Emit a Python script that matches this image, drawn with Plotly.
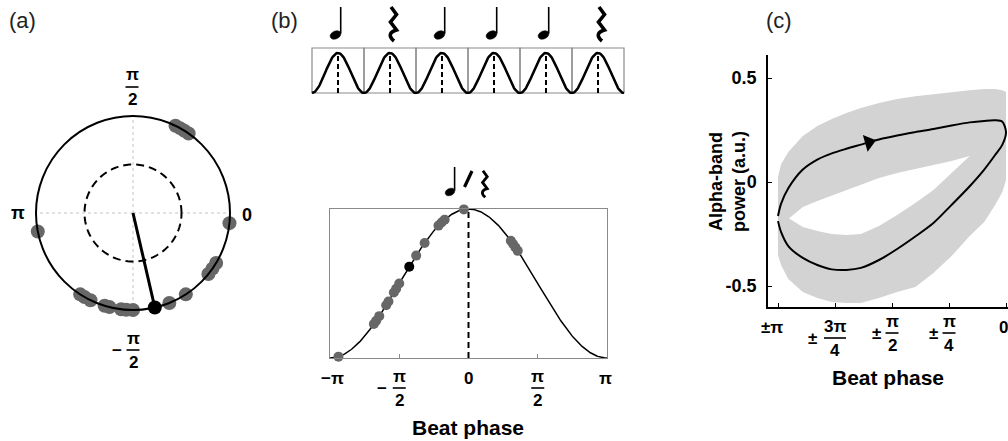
import numpy as np
import plotly.graph_objects as go

W, H = 1008, 441
FONT = "Liberation Sans"
DOT_GRAY = "#676767"
BAND_GRAY = "#d3d3d3"
FRAME_GRAY = "#8a8a8a"

# ---------------- data ----------------
# (a)/(b): individual preferred beat phases (degrees); black dot = mean phase
phases_gray_deg = [-169, -123, -120, -116, -107, -104, -97, -94, -90,
                   -68, -57, -39, -35, -31, -6, 55, 58, 61, 64]
phase_mean_deg = -77
resultant_r = 1.0
significance_r = 0.5

# (b) top: rhythmic sequence (one cycle per beat)
beat_events = ["note", "rest", "note", "note", "note", "rest"]

# (c): alpha-band power vs |beat phase| (rad); pre = phase in (-pi,0), post = phase in (0,pi)
phase_abs = [3.1416, 3.10, 3.0, 2.8, 2.6, 2.4, 2.2, 2.0, 1.75, 1.5, 1.25, 1.0,
             0.75, 0.5, 0.3, 0.15, 0.05, 0.0]
alpha_pre = [-0.163, -0.105, -0.030, 0.060, 0.108, 0.138, 0.160, 0.180, 0.205, 0.224,
             0.240, 0.255, 0.272, 0.287, 0.294, 0.297, 0.290, 0.240]
alpha_pre_hi = [0.024, 0.085, 0.144, 0.221, 0.269, 0.303, 0.332, 0.356, 0.380, 0.399,
                0.413, 0.423, 0.433, 0.442, 0.447, 0.447, 0.442, 0.433]
alpha_pre_lo = [-0.255, -0.221, -0.178, -0.120, -0.091, -0.063, -0.038, -0.014, 0.019, 0.043,
                0.063, 0.082, 0.101, 0.125, 0.139, 0.144, 0.135, 0.106]
alpha_post = [-0.188, -0.240, -0.308, -0.365, -0.399, -0.420, -0.423, -0.413, -0.375, -0.322,
              -0.262, -0.197, -0.110, -0.020, 0.060, 0.130, 0.180, 0.240]
alpha_post_hi = [-0.087, -0.125, -0.173, -0.216, -0.236, -0.250, -0.255, -0.250, -0.212, -0.159,
                 -0.101, -0.038, 0.043, 0.125, 0.202, 0.260, 0.308, 0.346]
alpha_post_lo = [-0.351, -0.399, -0.466, -0.529, -0.558, -0.577, -0.582, -0.582, -0.558, -0.529,
                 -0.505, -0.438, -0.356, -0.260, -0.192, -0.111, -0.048, 0.010]
arrow_phase = 1.89

PI = np.pi


def yp(py):
    return 1 - py / H


def xp(px):
    return px / W


fig = go.Figure()
ann = []
shapes = []


def text(x, y, s, size=16, xref="paper", bold=True, xshift=0, color="black"):
    ann.append(dict(x=x, y=y, xref=xref, yref="paper", text=f"<b>{s}</b>" if bold else s,
                    showarrow=False, xshift=xshift, xanchor="center", yanchor="middle",
                    font=dict(family=FONT, size=size, color=color)))


def frac(x, xref, ynum, num, den, bar_w, gap=12, size=16, prefix=None, pdx=-16, pdy=None):
    text(x, yp(ynum), num, size, xref)
    text(x, yp(ynum + 2 * gap), den, size, xref)
    if xref == "paper":
        shapes.append(dict(type="line", xref="paper", yref="paper",
                           x0=x - bar_w / 2 / W, x1=x + bar_w / 2 / W,
                           y0=yp(ynum + gap), y1=yp(ynum + gap),
                           line=dict(color="black", width=1.6)))
    else:
        shapes.append(dict(type="line", xref=xref, yref="paper", xsizemode="pixel",
                           xanchor=x, x0=-bar_w / 2, x1=bar_w / 2,
                           y0=yp(ynum + gap), y1=yp(ynum + gap),
                           line=dict(color="black", width=1.6)))
    if prefix:
        text(x, yp(ynum + gap + (pdy or 0)), prefix, size, xref, xshift=pdx)


def head_path(a, b, ang, cx, cy):
    t = np.linspace(0, 2 * np.pi, 24, endpoint=False)
    c, s = np.cos(np.radians(ang)), np.sin(np.radians(ang))
    xs = cx + a * np.cos(t) * c - b * np.sin(t) * s
    ys = cy + a * np.cos(t) * s + b * np.sin(t) * c
    return "M " + " L ".join(f"{x:.2f},{y:.2f}" for x, y in zip(xs, ys)) + " Z"


def rest_path(s, cx=0):
    pts = [(-2, 17), (3.5, 9.5), (-2.5, 2), (3.5, -6)]
    p = "M " + " L ".join(f"{cx + x * s:.2f},{y * s:.2f}" for x, y in pts)
    p += f" C {cx - 3.5 * s:.2f},{-8 * s:.2f} {cx - 5 * s:.2f},{-12 * s:.2f} {cx + 1 * s:.2f},{-17 * s:.2f}"
    return p


def note(xref, x, yanchor, dx=0, dy=0, a=5.6, b=3.9, stem=28):
    shapes.append(dict(type="path", xref=xref, yref="paper", xsizemode="pixel", ysizemode="pixel",
                       xanchor=x, yanchor=yanchor, path=head_path(a, b, 25, dx, dy),
                       fillcolor="black", line=dict(color="black", width=0.5)))
    shapes.append(dict(type="line", xref=xref, yref="paper", xsizemode="pixel", ysizemode="pixel",
                       xanchor=x, yanchor=yanchor, x0=dx + a - 0.4, x1=dx + a - 0.4,
                       y0=dy + 1.5, y1=dy + stem, line=dict(color="black", width=1.6)))


def rest(xref, x, yanchor, scale=1.0, dx=0):
    shapes.append(dict(type="path", xref=xref, yref="paper", xsizemode="pixel", ysizemode="pixel",
                       xanchor=x, yanchor=yanchor, path=rest_path(scale, dx),
                       line=dict(color="black", width=3.6 * scale)))


# ---------------- (a) polar ----------------
theta_circ = np.linspace(0, 360, 181)
fig.add_trace(go.Scatterpolar(r=[significance_r] * len(theta_circ), theta=theta_circ, mode="lines",
                              line=dict(color="black", width=2, dash="8px,5px"), subplot="polar"))
fig.add_trace(go.Scatterpolar(r=[0, resultant_r], theta=[phase_mean_deg, phase_mean_deg], mode="lines",
                              line=dict(color="black", width=3), subplot="polar"))
fig.add_trace(go.Scatterpolar(r=[1] * len(phases_gray_deg), theta=phases_gray_deg, mode="markers",
                              marker=dict(size=14, color=DOT_GRAY), cliponaxis=False, subplot="polar"))
fig.add_trace(go.Scatterpolar(r=[1], theta=[phase_mean_deg], mode="markers",
                              marker=dict(size=14, color="black"), cliponaxis=False, subplot="polar"))

frac(xp(132), "paper", 75, "π", "2", 13, size=17)
text(xp(18), yp(213), "π", 18)
text(xp(247), yp(215), "0", 18)
frac(xp(133), "paper", 338, "π", "2", 13, size=17, prefix="−", pdx=-16)

# ---------------- (b) top: beat cycles ----------------
n_beats = len(beat_events)
xc = np.linspace(0, n_beats, 60 * n_beats + 1)
fig.add_trace(go.Scatter(x=xc, y=(1 - np.cos(2 * np.pi * xc)) / 2, mode="lines",
                         line=dict(color="black", width=2.5), xaxis="x", yaxis="y"))
dx_, dy_ = [], []
for k in range(n_beats):
    dx_ += [k + 0.5, k + 0.5, None]
    dy_ += [0, 1, None]
    shapes.append(dict(type="rect", xref="x", yref="y", x0=k, x1=k + 1, y0=0, y1=1.125,
                       line=dict(color=FRAME_GRAY, width=1.2), layer="below"))
fig.add_trace(go.Scatter(x=dx_, y=dy_, mode="lines", line=dict(color="black", width=2, dash="5px,3px"),
                         xaxis="x", yaxis="y"))
for k, ev in enumerate(beat_events):
    if ev == "note":
        note("x", k + 0.5, yp(35), dx=-2.5)
    else:
        rest("x", k + 0.5, yp(24), 1.0, dx=3)

# ---------------- (b) bottom: cosine with phases ----------------
xb = np.linspace(-PI, PI, 301)
fig.add_trace(go.Scatter(x=xb, y=(1 + np.cos(xb)) / 2, mode="lines",
                         line=dict(color="black", width=1.5), xaxis="x2", yaxis="y2"))
fig.add_trace(go.Scatter(x=[0, 0], y=[0, 1], mode="lines",
                         line=dict(color="black", width=2, dash="6px,4px"), xaxis="x2", yaxis="y2"))
pg = np.radians(phases_gray_deg)
fig.add_trace(go.Scatter(x=pg, y=(1 + np.cos(pg)) / 2, mode="markers", cliponaxis=False,
                         marker=dict(size=10, color=DOT_GRAY), xaxis="x2", yaxis="y2"))
pm = np.radians(phase_mean_deg)
fig.add_trace(go.Scatter(x=[pm], y=[(1 + np.cos(pm)) / 2], mode="markers", cliponaxis=False,
                         marker=dict(size=10, color="black"), xaxis="x2", yaxis="y2"))
# note / rest symbol above peak
note("x2", 0, yp(184), dx=-18.5, dy=-8, a=5.0, b=3.5, stem=25)
shapes.append(dict(type="line", xref="x2", yref="paper", xsizemode="pixel", ysizemode="pixel",
                   xanchor=0, yanchor=yp(184), x0=-4, x1=3.5, y0=-3, y1=13,
                   line=dict(color="black", width=3.2)))
rest("x2", 0, yp(184), 0.78, dx=16)

text(-PI, yp(378), "−π", 17, "x2", xshift=2)
frac(-PI / 2, "x2", 376, "π", "2", 13, size=17, prefix="−", pdx=-17)
text(0, yp(378), "0", 17, "x2")
frac(PI / 2, "x2", 376, "π", "2", 13, size=17)
text(PI, yp(378), "π", 17, "x2", xshift=-2)
text(xp(468), yp(427), "Beat phase", 21)

# ---------------- (c) alpha loop ----------------
for lo, hi in [(alpha_pre_lo, alpha_pre_hi), (alpha_post_lo, alpha_post_hi)]:
    fig.add_trace(go.Scatter(x=phase_abs + phase_abs[::-1], y=hi + lo[::-1], fill="toself",
                             fillcolor=BAND_GRAY, line=dict(width=0), mode="lines",
                             xaxis="x3", yaxis="y3"))
loop_x = phase_abs + phase_abs[::-1][1:]
loop_y = alpha_pre + alpha_post[::-1][1:]
fig.add_trace(go.Scatter(x=loop_x, y=loop_y, mode="lines", line=dict(color="black", width=2, shape="spline",
                                                                      smoothing=0.8),
                         xaxis="x3", yaxis="y3"))
arrow_y = float(np.interp(arrow_phase, phase_abs[::-1], alpha_pre[::-1]))
fig.add_trace(go.Scatter(x=[arrow_phase], y=[arrow_y], mode="markers",
                         marker=dict(symbol="triangle-right", size=15, color="black", angle=-16),
                         xaxis="x3", yaxis="y3"))

text(PI, yp(327), "±π", 17, "x3", xshift=-6)
frac(3 * PI / 4, "x3", 326, "3π", "4", 22, size=17, prefix="±", pdx=-23)
frac(PI / 2, "x3", 321, "π", "2", 13, size=17, prefix="±", pdx=-16)
frac(PI / 4, "x3", 321, "π", "4", 13, size=17, prefix="±", pdx=-16)
text(0, yp(327), "0", 17, "x3", xshift=-3)
text(xp(888), yp(377), "Beat phase", 21)
ann.append(dict(x=xp(727), y=yp(182), xref="paper", yref="paper", showarrow=False, textangle=-90,
                text="<b>Alpha-band<br>power (a.u.)</b>", xanchor="center", yanchor="middle",
                font=dict(family=FONT, size=18, color="black")))

# panel letters
text(xp(22), yp(20), "(a)", 22, bold=False, color="#222")
text(xp(284), yp(20), "(b)", 22, bold=False, color="#222")
text(xp(779), yp(20), "(c)", 22, bold=False, color="#222")

# ---------------- layout ----------------
noax = dict(visible=False, showgrid=False, zeroline=False, fixedrange=True)
fig.update_layout(
    width=W, height=H, margin=dict(l=0, r=0, t=0, b=0),
    paper_bgcolor="white", plot_bgcolor="rgba(0,0,0,0)", showlegend=False,
    font=dict(family=FONT),
    polar=dict(
        domain=dict(x=[xp(36), xp(230)], y=[yp(311), yp(115)]),
        bgcolor="rgba(0,0,0,0)",
        radialaxis=dict(visible=False, range=[0, 1]),
        angularaxis=dict(rotation=0, direction="counterclockwise", tickvals=[0, 90, 180, 270],
                         showticklabels=False, ticks="", showgrid=True, gridcolor="#c4c4c4",
                         griddash="dot", gridwidth=1, showline=True, linecolor="black", linewidth=2),
    ),
    xaxis=dict(noax, domain=[xp(310.44), xp(625.56)], range=[-0.03, 6.03], anchor="y"),
    yaxis=dict(noax, domain=[yp(94.2), yp(46.6)], range=[-0.03, 1.16], anchor="x"),
    xaxis2=dict(domain=[xp(330), xp(607)], range=[-PI, PI], anchor="y2", showline=True, mirror=True,
                linecolor=FRAME_GRAY, linewidth=1, tickvals=[-PI / 2, PI / 2], ticks="inside", ticklen=4,
                tickcolor=FRAME_GRAY, showticklabels=False, showgrid=False, zeroline=False),
    yaxis2=dict(domain=[yp(358), yp(209)], range=[0, 1], anchor="x2", showline=True, mirror=True,
                linecolor=FRAME_GRAY, linewidth=1, ticks="", showticklabels=False, showgrid=False,
                zeroline=False),
    xaxis3=dict(domain=[xp(768), 1.0], range=[3.2796, -0.0276], anchor="y3", showline=True,
                linecolor="black", linewidth=1.5, tickvals=[PI, 3 * PI / 4, PI / 2, PI / 4, 0],
                ticks="inside", ticklen=4, tickcolor="black", showticklabels=False,
                showgrid=False, zeroline=False),
    yaxis3=dict(domain=[yp(307), yp(55)], range=[-0.601, 0.611], anchor="x3", showline=True,
                linecolor="black", linewidth=1.5, tickvals=[-0.5, 0, 0.5],
                ticktext=["<b>-0.5</b>", "<b>0</b>", "<b>0.5</b>"], ticks="inside", ticklen=4,
                tickcolor="black", tickfont=dict(family=FONT, size=18, color="black"),
                ticklabelstandoff=6, showgrid=False, zeroline=False),
    annotations=ann,
    shapes=shapes,
)

fig.write_html("out.html", config={"displayModeBar": False})
